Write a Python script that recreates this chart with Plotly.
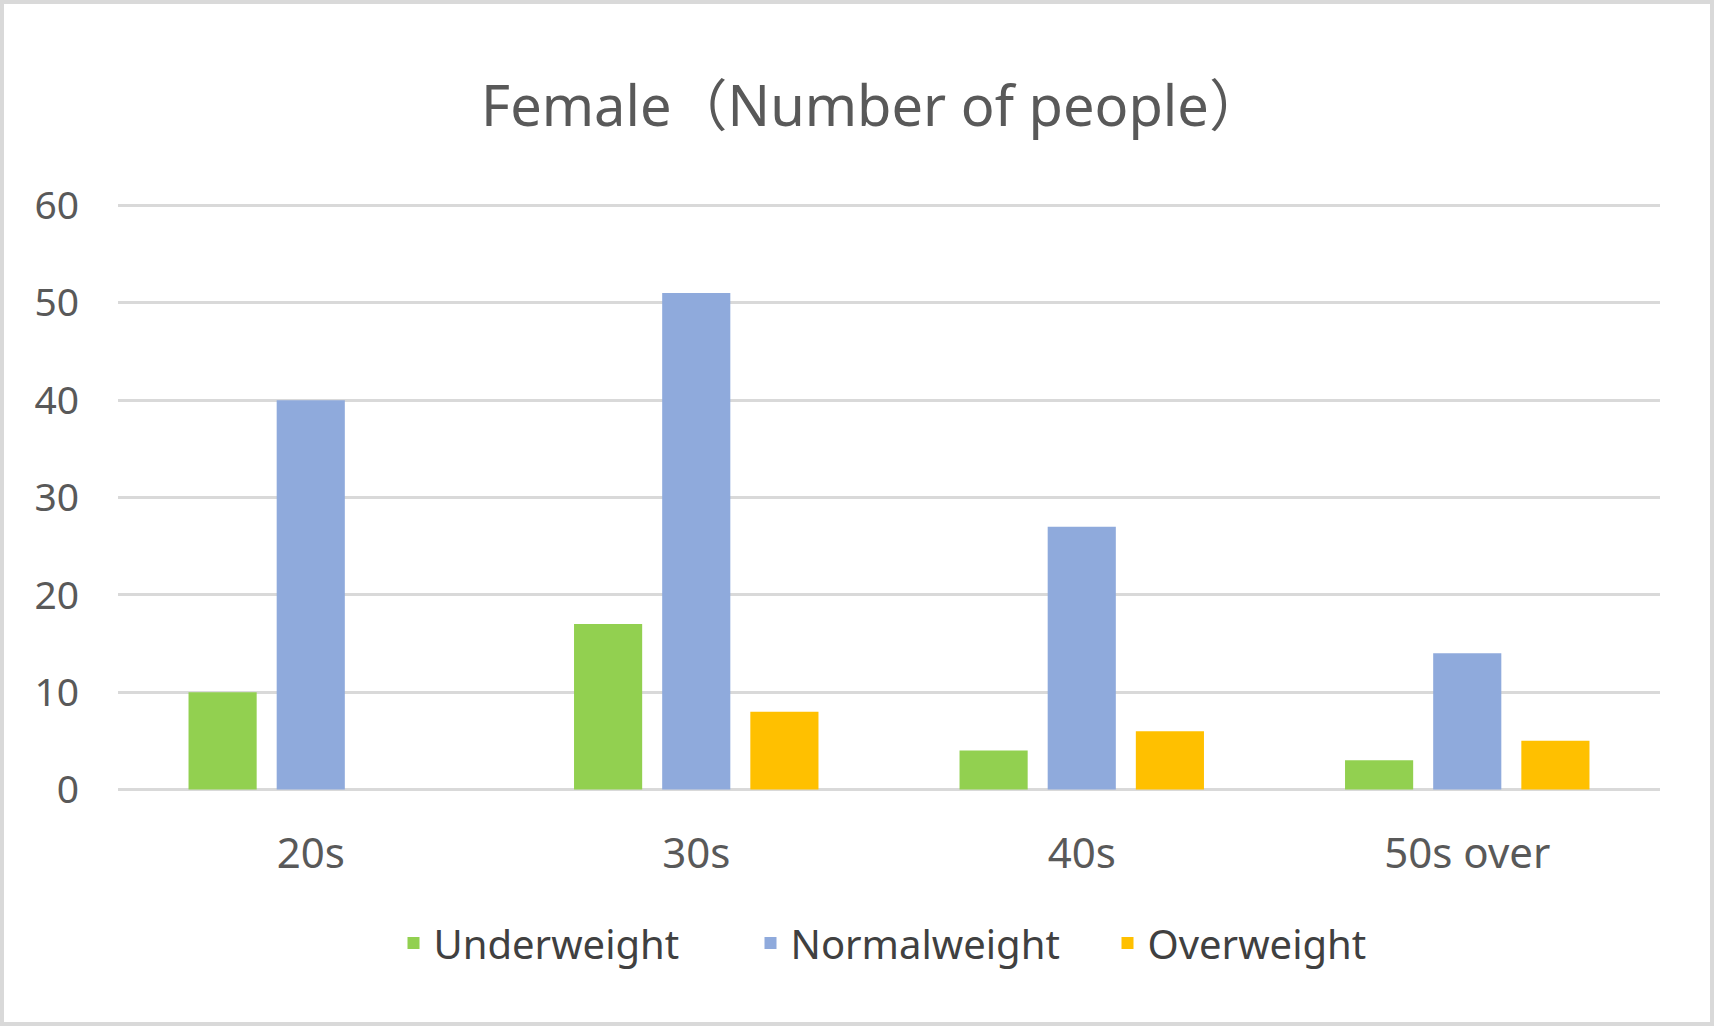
import plotly.graph_objects as go

# Data
categories = ["20s", "30s", "40s", "50s over"]
underweight = [10, 17, 4, 3]
normalweight = [40, 51, 27, 14]
overweight = [0, 8, 6, 5]
y_ticks = [0, 10, 20, 30, 40, 50, 60]

W, H = 1714, 1026
ML, MR, MT, MB = 118, 54, 204, 235

FONT = "Noto Sans, Noto Sans CJK JP, sans-serif"
TXT = "#595959"

fig = go.Figure()
fig.add_trace(go.Bar(name="Underweight", x=categories, y=underweight,
                     marker=dict(color="#92D050", line=dict(width=0))))
fig.add_trace(go.Bar(name="Normalweight", x=categories, y=normalweight,
                     marker=dict(color="#8FAADC", line=dict(width=0))))
fig.add_trace(go.Bar(name="Overweight", x=categories, y=overweight,
                     marker=dict(color="#FFC000", line=dict(width=0))))

pw = W - ML - MR
ph = H - MT - MB

fig.update_layout(
    width=W, height=H,
    margin=dict(l=ML, r=MR, t=MT, b=MB),
    paper_bgcolor="white", plot_bgcolor="white",
    barmode="group", bargap=0.314, bargroupgap=0.227,
    font=dict(family=FONT, color=TXT),
    title=dict(text="Female（Number of people）", x=0.5 + 16 / W, xanchor="center",
               y=1 - 106 / H, yanchor="middle", yref="container",
               font=dict(size=56, color=TXT, family=FONT)),
    xaxis=dict(showgrid=False, zeroline=False, showline=False,
               tickfont=dict(size=42, color=TXT), ticklabelstandoff=34),
    yaxis=dict(range=[-0.15, 60.15], tickvals=y_ticks, showgrid=True,
               gridcolor="#D9D9D9", gridwidth=2.5, zeroline=False,
               showline=False, tickfont=dict(size=39, color=TXT),
               ticklabelstandoff=38),
    legend=dict(orientation="h", x=0.5 + 40 / pw, xanchor="center",
                y=-(943 - (H - MB)) / ph, yanchor="middle",
                font=dict(size=40, color="#404040"),
                entrywidth=312, entrywidthmode="pixels"),
    shapes=[dict(type="rect", xref="paper", yref="paper",
                 x0=-(ML - 2) / pw, x1=1 + (MR - 2) / pw,
                 y0=-(MB - 2) / ph, y1=1 + (MT - 2) / ph,
                 line=dict(color="#D9D9D9", width=4), fillcolor="rgba(0,0,0,0)",
                 layer="below")],
)

fig.write_html("out.html", config={"displayModeBar": False},
               post_script="document.body.style.margin='0';document.body.style.overflow='hidden';")
